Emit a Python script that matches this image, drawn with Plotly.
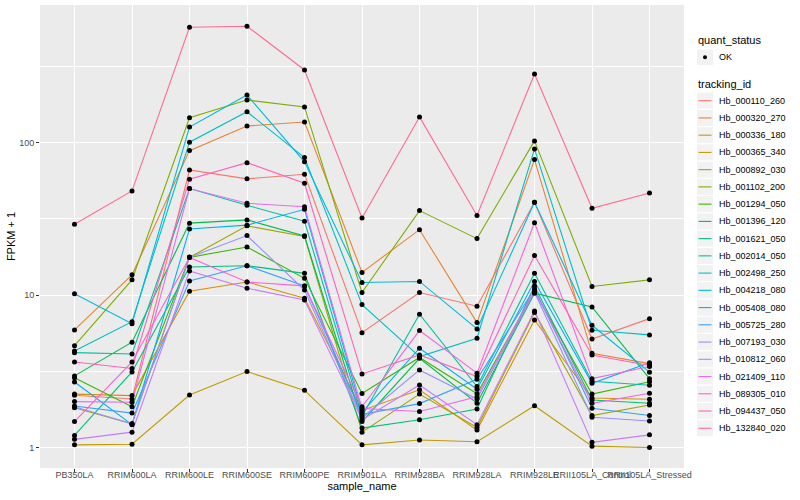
import plotly.graph_objects as go

samples = ["PB350LA", "RRIM600LA", "RRIM600LE", "RRIM600SE", "RRIM600PE", "RRIM901LA",
           "RRIM928BA", "RRIM928LA", "RRIM928LE", "RRII105LA_Control", "RRII105LA_Stressed"]

tracking_ids = ["Hb_000110_260", "Hb_000320_270", "Hb_000336_180", "Hb_000365_340", "Hb_000892_030",
                "Hb_001102_200", "Hb_001294_050", "Hb_001396_120", "Hb_001621_050", "Hb_002014_050",
                "Hb_002498_250", "Hb_004218_080", "Hb_005408_080", "Hb_005725_280", "Hb_007193_030",
                "Hb_010812_060", "Hb_021409_110", "Hb_089305_010", "Hb_094437_050", "Hb_132840_020"]

colors = ["#F8766D", "#EA8331", "#D89000", "#C09B00", "#A3A500", "#7CAE00", "#39B600", "#00BB4E",
          "#00BF7D", "#00C1A3", "#00BFC4", "#00BAE0", "#00B0F6", "#35A2FF", "#9590FF", "#C77CFF",
          "#E76BF3", "#FA62DB", "#FF62BC", "#FF6C91"]

# FPKM + 1 per sample
hb_000110_260 = [2.20, 2.08, 66.4, 58, 62.2, 5.67, 10.4, 8.46, 40.7, 5.15, 7.01]
hb_000320_270 = [5.91, 13.6, 88.9, 129, 137, 14.1, 26.9, 6.6, 77.6, 4.15, 3.55]
hb_000336_180 = [2.24, 2.19, 10.6, 12.2, 9.55, 1.75, 2.39, 1.30, 6.87, 2.11, 2.07]
hb_000365_340 = [1.04, 1.05, 2.21, 3.15, 2.37, 1.04, 1.12, 1.09, 1.88, 1.02, 1.0]
hb_000892_030 = [1.82, 1.43, 17.7, 28.5, 24.3, 1.26, 2.24, 1.35, 7.68, 1.62, 1.90]
hb_001102_200 = [4.66, 12.6, 146, 191, 172, 10.4, 35.9, 23.5, 103, 11.4, 12.6]
hb_001294_050 = [2.87, 1.85, 17.7, 20.7, 12.9, 2.26, 3.9, 2.25, 10.6, 2.24, 2.70]
hb_001396_120 = [2.95, 4.91, 29.7, 31.2, 24.5, 1.48, 3.85, 1.95, 10.3, 8.36, 2.83]
hb_001621_050 = [1.20, 3.13, 15.3, 15.6, 13.9, 1.34, 1.52, 1.79, 11.5, 2.05, 1.95]
hb_002014_050 = [4.19, 4.11, 50.1, 38.9, 30.6, 1.60, 7.49, 2.51, 13.9, 2.72, 2.56]
hb_002498_250 = [4.30, 6.7, 101, 160, 80, 8.67, 3.95, 5.21, 91.2, 5.88, 5.48]
hb_004218_080 = [10.2, 6.5, 127, 206, 75, 12.1, 12.3, 6.0, 40.7, 6.34, 3.12]
hb_005408_080 = [2.69, 1.41, 27.2, 28.8, 36.6, 1.70, 4.48, 2.41, 12.3, 2.64, 3.60]
hb_005725_280 = [1.87, 1.68, 12.4, 15.6, 11.5, 1.65, 1.94, 2.80, 11.0, 1.81, 1.62]
hb_007193_030 = [1.85, 1.43, 17.7, 24.6, 10.8, 1.56, 3.23, 2.08, 10.5, 1.58, 1.49]
hb_010812_060 = [1.13, 1.26, 14.4, 11.1, 9.3, 1.52, 2.57, 1.41, 7.87, 1.08, 1.21]
hb_021409_110 = [2.00, 1.98, 50.1, 40.1, 38.1, 1.80, 1.72, 2.15, 10.8, 1.95, 2.27]
hb_089305_010 = [1.48, 3.64, 17.7, 12.2, 11.5, 1.85, 5.85, 3.07, 29.9, 2.83, 3.40]
hb_094437_050 = [3.64, 3.30, 57.7, 74.1, 54.3, 3.04, 4.05, 2.92, 18.2, 4.05, 3.45]
hb_132840_020 = [29.2, 48.3, 574, 583, 301, 32.1, 148, 33.3, 283, 37.2, 46.9]

series_values = [hb_000110_260, hb_000320_270, hb_000336_180, hb_000365_340, hb_000892_030,
                 hb_001102_200, hb_001294_050, hb_001396_120, hb_001621_050, hb_002014_050,
                 hb_002498_250, hb_004218_080, hb_005408_080, hb_005725_280, hb_007193_030,
                 hb_010812_060, hb_021409_110, hb_089305_010, hb_094437_050, hb_132840_020]

y_ticks = [1, 10, 100]
y_minor = [10 ** 0.5, 10 ** 1.5, 10 ** 2.5]

FONT = "Liberation Sans, Arial, Helvetica, sans-serif"

fig = go.Figure()
for name, col, vals in zip(tracking_ids, colors, series_values):
    fig.add_trace(go.Scatter(x=samples, y=vals, mode="lines", name=name,
                             line=dict(color=col, width=1.1), showlegend=False, hoverinfo="skip"))
for name, vals in zip(tracking_ids, series_values):
    fig.add_trace(go.Scatter(x=samples, y=vals, mode="markers", name=name,
                             marker=dict(color="black", size=5), showlegend=False))

# layout geometry (pixels)
W, H = 800, 500
L, R, T, B = 40, 116, 5, 32
pw, ph = W - L - R, H - T - B


def px(xp):
    return (xp - L) / pw


def py(yp):
    return (H - B - yp) / ph


fig.update_layout(
    width=W, height=H,
    margin=dict(l=L, r=R, t=T, b=B, autoexpand=False),
    paper_bgcolor="white", plot_bgcolor="#EBEBEB",
    showlegend=False,
    font=dict(family=FONT, size=9, color="#4D4D4D"),
    xaxis=dict(type="category", categoryorder="array", categoryarray=samples,
               range=[-0.6, len(samples) - 0.4], showgrid=True, gridcolor="white", gridwidth=1.1,
               zeroline=False, ticks="outside", ticklen=3, tickcolor="#333333", tickwidth=1,
               tickfont=dict(size=9, color="#4D4D4D", family=FONT), tickangle=0,
               ticklabelstandoff=-5,
               title=dict(text="sample_name", font=dict(size=11, color="black", family=FONT), standoff=2),
               showline=False),
    yaxis=dict(type="log", range=[-0.135, 2.905], tickvals=y_ticks, ticktext=[str(v) for v in y_ticks],
               showgrid=True, gridcolor="white", gridwidth=1.1, zeroline=False,
               ticks="outside", ticklen=3, tickcolor="#333333", tickwidth=1,
               tickfont=dict(size=9, color="#4D4D4D", family=FONT),
               minor=dict(tickvals=y_minor, showgrid=True, gridcolor="white", gridwidth=0.55, ticks=""),
               title=dict(text="FPKM + 1", font=dict(size=11, color="black", family=FONT), standoff=1),
               showline=False),
)

# manual legend (ggplot style)
shapes = []
annotations = []
key_x0, key_x1 = 697, 713
annotations.append(dict(x=px(696), y=py(40.5), xref="paper", yref="paper", text="quant_status",
                        showarrow=False, xanchor="left", yanchor="middle",
                        font=dict(size=11, color="black", family=FONT)))
shapes.append(dict(type="rect", xref="paper", yref="paper", x0=px(key_x0), x1=px(key_x1),
                   y0=py(49.5), y1=py(65), fillcolor="#F2F2F2", line=dict(width=0)))
shapes.append(dict(type="circle", xref="paper", yref="paper", x0=px(703), x1=px(707),
                   y0=py(55.3), y1=py(59.3), fillcolor="black", line=dict(width=0)))
annotations.append(dict(x=px(717), y=py(57.3), xref="paper", yref="paper", text="OK",
                        showarrow=False, xanchor="left", yanchor="middle",
                        font=dict(size=9, color="black", family=FONT)))
annotations.append(dict(x=px(696), y=py(84.3), xref="paper", yref="paper", text="tracking_id",
                        showarrow=False, xanchor="left", yanchor="middle",
                        font=dict(size=11, color="black", family=FONT)))
step = 17.24
for i, (name, col) in enumerate(zip(tracking_ids, colors)):
    cy = 100.7 + i * step
    shapes.append(dict(type="rect", xref="paper", yref="paper", x0=px(key_x0), x1=px(key_x1),
                       y0=py(cy - 8), y1=py(cy + 8), fillcolor="#F2F2F2", line=dict(width=0)))
    shapes.append(dict(type="line", xref="paper", yref="paper", x0=px(key_x0 + 1.5), x1=px(key_x1 - 1.5),
                       y0=py(cy), y1=py(cy), line=dict(color=col, width=1.1)))
    annotations.append(dict(x=px(717), y=py(cy), xref="paper", yref="paper", text=name,
                            showarrow=False, xanchor="left", yanchor="middle",
                            font=dict(size=9, color="black", family=FONT)))

fig.update_layout(shapes=shapes, annotations=annotations)
fig.write_html("out.html", config={"displayModeBar": False},
               post_script="document.body.style.margin='0';document.body.style.overflow='hidden';")
